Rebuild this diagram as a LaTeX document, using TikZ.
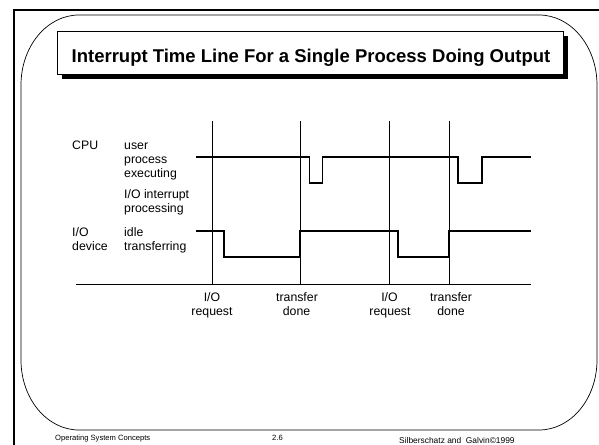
\documentclass[tikz,border=0pt]{standalone}
\usepackage{fontspec}
\setmainfont{Liberation Sans}
\usetikzlibrary{shadows}
\begin{document}
\begin{tikzpicture}[x=1pt,y=1pt,
  lbl/.style={anchor=base west,inner sep=0pt,font=\fontsize{12.3}{14.3}\selectfont},
  tick/.style={anchor=base,inner sep=0pt,font=\fontsize{12.3}{14.3}\selectfont},
  foot/.style={anchor=base west,inner sep=0pt,font=\fontsize{7.6}{8}\selectfont},
  wave/.style={line width=1.7pt,line join=miter},
  vline/.style={line width=0.8pt},
  frame/.style={line width=0.7pt}]
\useasboundingbox (0,0) rectangle (599,-444);
% outer frame
\draw[line width=2pt] (14,-446) -- (14,-10) -- (601,-10);
% rounded panel
\draw[frame] (79,-15) -- (539,-15) arc[start angle=90,end angle=0,x radius=58,y radius=70]
  -- (597,-360) arc[start angle=0,end angle=-90,x radius=58,y radius=70]
  -- (79,-430) arc[start angle=270,end angle=180,x radius=58,y radius=70]
  -- (21,-85) arc[start angle=180,end angle=90,x radius=58,y radius=70] -- cycle;
% title box
\node[draw,fill=white,line width=0.7pt,minimum width=506pt,minimum height=43pt,inner sep=0pt,
  drop shadow={shadow xshift=5pt,shadow yshift=-5pt,opacity=1,fill=black}] (tbox) at (310,-52.5) {};
\node[anchor=base,inner sep=0pt,font=\fontsize{18.5}{20}\bfseries\selectfont] (title) at (311,-63)
  {Interrupt Time Line For a Single Process Doing Output};
% labels
\node[lbl] (cpu) at (72,-149) {CPU};
\node[lbl] (user) at (124,-149) {user};
\node[lbl] (proc) at (124,-163.3) {process};
\node[lbl] (exec) at (124,-177.7) {executing};
\node[lbl] (ioint) at (124,-198.3) {I/O interrupt};
\node[lbl] (iproc) at (124,-212.7) {processing};
\node[lbl] (io) at (72,-236.7) {I/O};
\node[lbl] (dev) at (72,-250.7) {device};
\node[lbl] (idle) at (124,-236.7) {idle};
\node[lbl] (trans) at (124,-250.7) {transferring};
% vertical markers
\coordinate (t1) at (212,-121);
\coordinate (t2) at (300,-121);
\coordinate (t3) at (389,-121);
\coordinate (t4) at (449,-121);
\coordinate (a0) at (76,-284.3);
\coordinate (a1) at (531,-284.3);
\draw[vline] (t1) -- (t1 |- a0);
\draw[vline] (t2) -- (t2 |- a0);
\draw[vline] (t3) -- (t3 |- a0);
\draw[vline] (t4) -- (t4 |- a0);
\draw[line width=1.6pt] (a0) -- (a1);
% CPU waveform
\draw[wave] (196,-157.3) -- (309.5,-157.3) -- (309.5,-183.3) -- (322.5,-183.3) -- (322.5,-157.3)
  -- (457.7,-157.3) -- (457.7,-183.3) -- (481.7,-183.3) -- (481.7,-157.3) -- (531,-157.3);
% I/O waveform
\draw[wave] (196,-230.7) -- (224.3,-230.7) -- (224.3,-257.3) -- (299.5,-257.3) -- (299.5,-230.7)
  -- (397.7,-230.7) -- (397.7,-257.3) -- (449.3,-257.3) -- (449.3,-230.7) -- (531,-230.7);
% axis labels
\node[tick] (r1a) at (212,-301.7) {I/O};
\node[tick] (r1b) at (212,-315.7) {request};
\node[tick] (d1a) at (297,-301.7) {transfer};
\node[tick] (d1b) at (296.5,-315.7) {done};
\node[tick] (r2a) at (389.5,-301.7) {I/O};
\node[tick] (r2b) at (390,-315.7) {request};
\node[tick] (d2a) at (451,-301.7) {transfer};
\node[tick] (d2b) at (451,-315.7) {done};
% footer
\node[foot] (f1) at (55,-440) {Operating System Concepts};
\node[foot] (f2) at (272,-440) {2.6};
\node[foot,font=\fontsize{8.4}{9}\selectfont] (f3) at (399,-443) {Silberschatz and\ \ Galvin\textcopyright1999};
\end{tikzpicture}
\end{document}
